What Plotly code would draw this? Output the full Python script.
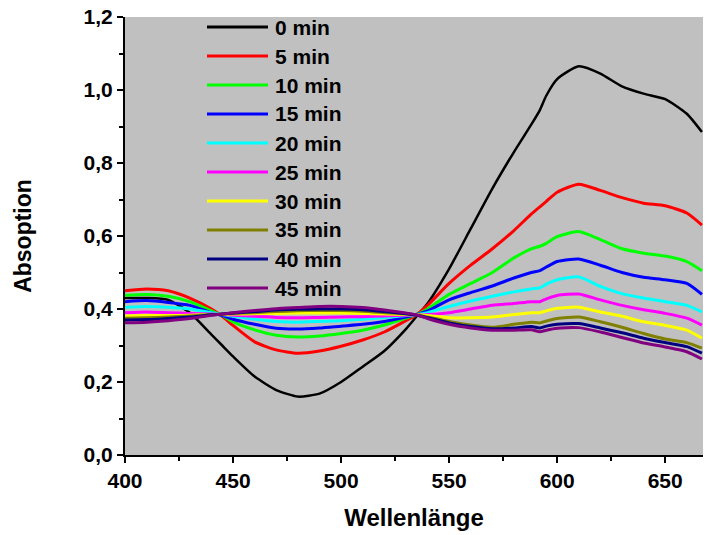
import plotly.graph_objects as go

wavelength = [400, 410, 420, 430, 440, 445, 450, 460, 470, 480, 490, 500, 510, 520, 530, 535,
              540, 550, 560, 570, 580, 588, 592, 595, 600, 610, 620, 630, 640, 650, 660, 667]

series_names = ["0 min", "5 min", "10 min", "15 min", "20 min", "25 min", "30 min", "35 min", "40 min", "45 min"]
series_colors = ["#000000", "#ff0000", "#00ff00", "#0000ff", "#00ffff", "#ff00ff", "#ffff00", "#808000", "#000080", "#800080"]

a_0 = [0.43, 0.43, 0.425, 0.39, 0.33, 0.30, 0.27, 0.215, 0.178, 0.16, 0.168, 0.20, 0.242, 0.285, 0.345, 0.38,
       0.415, 0.51, 0.62, 0.73, 0.83, 0.905, 0.945, 0.985, 1.03, 1.065, 1.045, 1.01, 0.99, 0.975, 0.935, 0.885]
a_5 = [0.45, 0.455, 0.45, 0.43, 0.40, 0.38, 0.355, 0.31, 0.288, 0.279, 0.285, 0.298, 0.315, 0.337, 0.368, 0.385,
       0.41, 0.47, 0.52, 0.565, 0.615, 0.66, 0.68, 0.695, 0.72, 0.742, 0.725, 0.705, 0.69, 0.683, 0.663, 0.63]
a_10 = [0.438, 0.44, 0.435, 0.42, 0.395, 0.382, 0.365, 0.343, 0.328, 0.323, 0.326, 0.333, 0.342, 0.356, 0.375, 0.385,
        0.40, 0.44, 0.47, 0.50, 0.54, 0.565, 0.572, 0.58, 0.598, 0.612, 0.59, 0.565, 0.553, 0.545, 0.53, 0.505]
a_15 = [0.42, 0.423, 0.418, 0.41, 0.39, 0.382, 0.372, 0.358, 0.347, 0.345, 0.348, 0.353, 0.358, 0.366, 0.378, 0.385,
        0.395, 0.425, 0.445, 0.463, 0.485, 0.50, 0.505, 0.515, 0.53, 0.537, 0.52, 0.50, 0.487, 0.48, 0.47, 0.44]
a_20 = [0.405, 0.407, 0.405, 0.40, 0.39, 0.385, 0.38, 0.372, 0.366, 0.364, 0.366, 0.368, 0.372, 0.376, 0.382, 0.385,
        0.39, 0.407, 0.422, 0.435, 0.447, 0.455, 0.458, 0.468, 0.48, 0.488, 0.462, 0.442, 0.43, 0.42, 0.41, 0.392]
a_25 = [0.39, 0.392, 0.39, 0.388, 0.386, 0.385, 0.383, 0.38, 0.377, 0.376, 0.377, 0.378, 0.379, 0.381, 0.383, 0.384,
        0.385, 0.39, 0.40, 0.41, 0.415, 0.42, 0.42, 0.428, 0.437, 0.441, 0.425, 0.41, 0.398, 0.388, 0.375, 0.356]
a_30 = [0.381, 0.382, 0.382, 0.383, 0.385, 0.385, 0.386, 0.387, 0.388, 0.389, 0.389, 0.389, 0.388, 0.386, 0.385, 0.384,
        0.382, 0.376, 0.376, 0.378, 0.385, 0.39, 0.39, 0.395, 0.402, 0.405, 0.392, 0.38, 0.365, 0.355, 0.342, 0.32]
a_35 = [0.375, 0.376, 0.378, 0.381, 0.385, 0.386, 0.388, 0.39, 0.393, 0.395, 0.396, 0.396, 0.394, 0.39, 0.386, 0.384,
        0.378, 0.366, 0.356, 0.35, 0.358, 0.364, 0.362, 0.367, 0.374, 0.378, 0.365, 0.35, 0.333, 0.318, 0.308, 0.293]
a_40 = [0.37, 0.371, 0.374, 0.378, 0.384, 0.386, 0.389, 0.393, 0.397, 0.399, 0.40, 0.40, 0.398, 0.393, 0.387, 0.383,
        0.376, 0.362, 0.352, 0.346, 0.348, 0.352, 0.348, 0.353, 0.358, 0.36, 0.348, 0.335, 0.32, 0.308, 0.297, 0.279]
a_45 = [0.362, 0.364, 0.368, 0.374, 0.383, 0.386, 0.39, 0.396, 0.401, 0.404, 0.407, 0.407, 0.404, 0.397, 0.389, 0.384,
        0.374, 0.358, 0.348, 0.342, 0.342, 0.343, 0.338, 0.342, 0.347, 0.349, 0.337, 0.322, 0.307, 0.296, 0.283, 0.263]

all_series = [a_0, a_5, a_10, a_15, a_20, a_25, a_30, a_35, a_40, a_45]

x_ticks = [400, 450, 500, 550, 600, 650]
y_ticks = [0.0, 0.2, 0.4, 0.6, 0.8, 1.0, 1.2]

FONT = "Liberation Sans, Arial, sans-serif"
W, H = 710, 535
ML, MR, MT, MB = 125, 7, 17, 80

fig = go.Figure()
for name, color, vals in zip(series_names, series_colors, all_series):
    fig.add_trace(go.Scatter(
        x=wavelength, y=vals, mode="lines", name=name,
        line=dict(color=color, width=3 if color != "#000000" else 2.5, shape="spline", smoothing=0.6),
        showlegend=False,
    ))

# custom legend (long line samples like the original), positions in pixels
pw = W - ML - MR
ph = H - MT - MB
plot_left = ML
plot_bottom = H - MB
shapes = []
annotations = []
for i, (name, color) in enumerate(zip(series_names, series_colors)):
    ypx = 27 + i * 29
    yp = (plot_bottom - ypx) / ph
    x0 = (207 - plot_left) / pw
    x1 = (268 - plot_left) / pw
    shapes.append(dict(type="line", xref="paper", yref="paper", x0=x0, x1=x1, y0=yp, y1=yp,
                       line=dict(color=color, width=3)))
    annotations.append(dict(xref="paper", yref="paper", x=(273 - plot_left) / pw, y=yp, text=f"<b>{name}</b>",
                            showarrow=False, xanchor="left", yanchor="middle",
                            font=dict(family=FONT, size=21, color="black")))

fig.update_layout(
    width=W, height=H,
    margin=dict(l=ML, r=MR, t=MT, b=MB),
    paper_bgcolor="white",
    plot_bgcolor="#c0c0c0",
    separators=", ",
    font=dict(family=FONT, color="black"),
    shapes=shapes,
    annotations=annotations,
    xaxis=dict(
        range=[400, 667.5], tickvals=x_ticks, ticktext=[f"<b>{v}</b>" for v in x_ticks],
        showgrid=False, zeroline=False, showline=True, linecolor="black", linewidth=2,
        ticks="outside", ticklen=6, tickwidth=2, tickcolor="black",
        tickfont=dict(family=FONT, size=21), ticklabeloverflow="allow",
        minor=dict(dtick=25, tick0=400, ticks="outside", ticklen=4, tickwidth=2, tickcolor="black", showgrid=False),
        title=dict(text="<b>Wellenlänge</b>", font=dict(family=FONT, size=24), standoff=18),
        automargin=False,
    ),
    yaxis=dict(
        range=[0, 1.2], tickvals=y_ticks, ticktext=[f"<b>{v:.1f}</b>".replace(".", ",") for v in y_ticks],
        showgrid=False, zeroline=False, showline=True, linecolor="black", linewidth=2,
        ticks="outside", ticklen=6, tickwidth=2, tickcolor="black",
        tickfont=dict(family=FONT, size=21), ticklabeloverflow="allow",
        minor=dict(dtick=0.1, tick0=0, ticks="outside", ticklen=4, tickwidth=2, tickcolor="black", showgrid=False),
        title=dict(text="<b>Absoption</b>", font=dict(family=FONT, size=23), standoff=46),
        automargin=False,
    ),
)

fig.write_html("out.html", config={"displayModeBar": False},
               post_script="document.body.style.margin='0';")
